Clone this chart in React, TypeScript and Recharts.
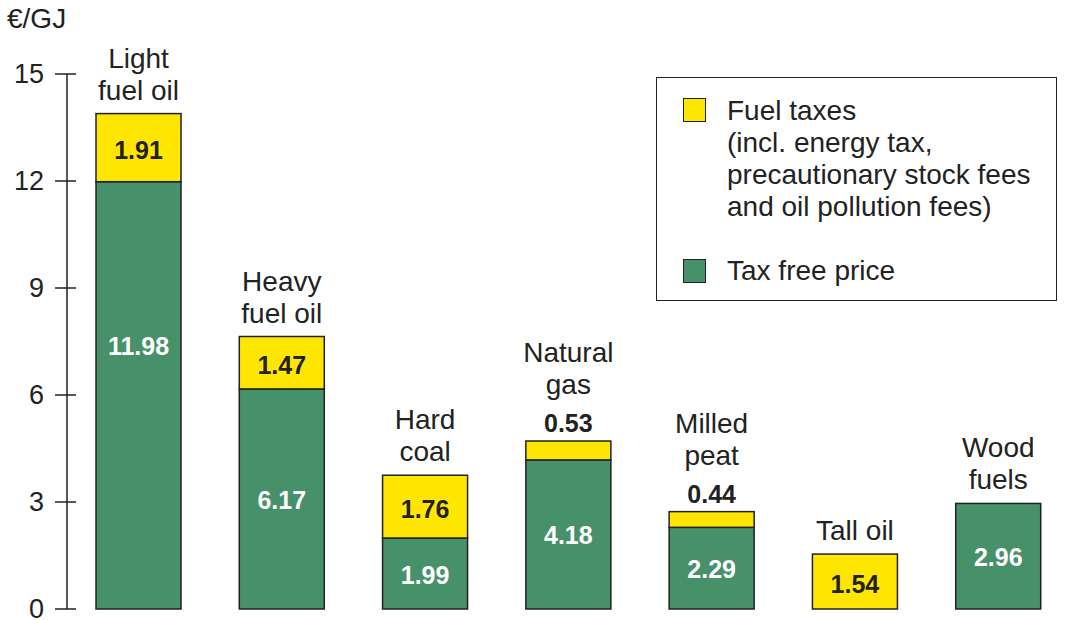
import { Bar, BarChart, LabelList, XAxis, YAxis } from 'recharts'

const categoryLines = [
  ['Light', 'fuel oil'],
  ['Heavy', 'fuel oil'],
  ['Hard', 'coal'],
  ['Natural', 'gas'],
  ['Milled', 'peat'],
  ['Tall oil'],
  ['Wood', 'fuels'],
]
const taxFreePrice = [11.98, 6.17, 1.99, 4.18, 2.29, 0, 2.96]
const fuelTaxes = [1.91, 1.47, 1.76, 0.53, 0.44, 1.54, 0]
const yTicks = [0, 3, 6, 9, 12, 15]

const legendTaxLines = [
  'Fuel taxes',
  '(incl. energy tax,',
  'precautionary stock fees',
  'and oil pollution fees)',
]

const FONT = '"Liberation Sans", Arial, sans-serif'
const YELLOW = '#FFE600'
const GREEN = '#46906A'
const INK = '#222'

const data = categoryLines.map((lines, i) => ({
  name: lines.join(' '),
  price: taxFreePrice[i],
  tax: fuelTaxes[i],
}))

function BarShape(props: any) {
  const { x, y, width, height, fill } = props
  if (!height || height <= 0) return <g />
  return <rect x={x} y={y} width={width} height={height} fill={fill} stroke={INK} strokeWidth={1.5} />
}

function YTick(props: any) {
  const { x, y, payload } = props
  return (
    <g>
      <line x1={x - 12} x2={x + 9} y1={y} y2={y} stroke={INK} strokeWidth={1.5} />
      <text x={x - 23} y={y} dy={9} textAnchor="end" fontSize={27} fill={INK} fontFamily={FONT}>
        {payload.value}
      </text>
    </g>
  )
}

function box(props: any) {
  const vb = props.viewBox && props.viewBox.width !== undefined ? props.viewBox : props
  return { x: Number(vb.x), y: Number(vb.y), width: Number(vb.width), height: Number(vb.height) }
}

function PriceLabel(props: any) {
  const { value } = props
  const { x, y, width, height } = box(props)
  if (!value) return null
  // tall segments keep their label in the upper part
  const cy = Math.min(y + height / 2, y + 163)
  return (
    <text x={x + width / 2} y={cy} dy={10} textAnchor="middle" fontSize={25} fontWeight="bold" fill="#fff" fontFamily={FONT}>
      {value.toFixed(2)}
    </text>
  )
}

function TaxLabel(props: any) {
  const { value, index } = props
  const { x, y, width, height } = box(props)
  const cx = x + width / 2
  const small = value > 0 && height < 30
  const lines = categoryLines[index] ?? []
  const lastBase = small ? y - 47 : y - 14
  return (
    <g fontFamily={FONT}>
      {value > 0 && (
        <text
          x={cx}
          y={small ? y - 9 : y + height / 2 + 11}
          textAnchor="middle"
          fontSize={25}
          fontWeight="bold"
          fill={INK}
        >
          {value.toFixed(2)}
        </text>
      )}
      {lines.map((line, i) => (
        <text key={i} x={cx} y={lastBase - (lines.length - 1 - i) * 32} textAnchor="middle" fontSize={28} fill={INK}>
          {line}
        </text>
      ))}
    </g>
  )
}

function LegendBox() {
  const swatch = (color: string, top: number) => (
    <div
      style={{
        position: 'absolute',
        left: 26,
        top,
        width: 21,
        height: 22,
        background: color,
        border: `1.5px solid ${INK}`,
      }}
    />
  )
  return (
    <div
      style={{
        position: 'absolute',
        left: 656,
        top: 77,
        width: 399,
        height: 222,
        border: `1.5px solid ${INK}`,
        fontFamily: FONT,
        fontSize: 28,
        color: INK,
        background: '#fff',
      }}
    >
      {swatch(YELLOW, 20)}
      <div style={{ position: 'absolute', left: 70, top: 17, lineHeight: '32px', whiteSpace: 'nowrap' }}>
        {legendTaxLines.map((l) => (
          <div key={l}>{l}</div>
        ))}
      </div>
      {swatch(GREEN, 181)}
      <div style={{ position: 'absolute', left: 70, top: 177, lineHeight: '32px', whiteSpace: 'nowrap' }}>
        Tax free price
      </div>
    </div>
  )
}

export default function App() {
  return (
    <div style={{ position: 'absolute', left: 0, top: 0, width: 1070, height: 620, background: '#fff' }}>
      <BarChart width={1070} height={620} data={data} margin={{ top: 74, right: 0, left: 0, bottom: 11 }}>
        <XAxis dataKey="name" height={0} tick={false} tickLine={false} axisLine={{ stroke: INK, strokeWidth: 1.5 }} />
        <YAxis
          width={67}
          domain={[0, 15]}
          ticks={yTicks}
          interval={0}
          tickSize={0}
          tickMargin={0}
          tickLine={false}
          tick={<YTick />}
          axisLine={{ stroke: INK, strokeWidth: 1.5 }}
          label={() => (
            <text x={7} y={28} fontSize={28} fill={INK} fontFamily={FONT}>
              €/GJ
            </text>
          )}
        />
        <Bar dataKey="price" stackId="a" fill={GREEN} barSize={85} shape={<BarShape />} isAnimationActive={false}>
          <LabelList dataKey="price" content={<PriceLabel />} />
        </Bar>
        <Bar dataKey="tax" stackId="a" fill={YELLOW} barSize={85} shape={<BarShape />} isAnimationActive={false}>
          <LabelList dataKey="tax" content={<TaxLabel />} />
        </Bar>
      </BarChart>
      <LegendBox />
    </div>
  )
}
